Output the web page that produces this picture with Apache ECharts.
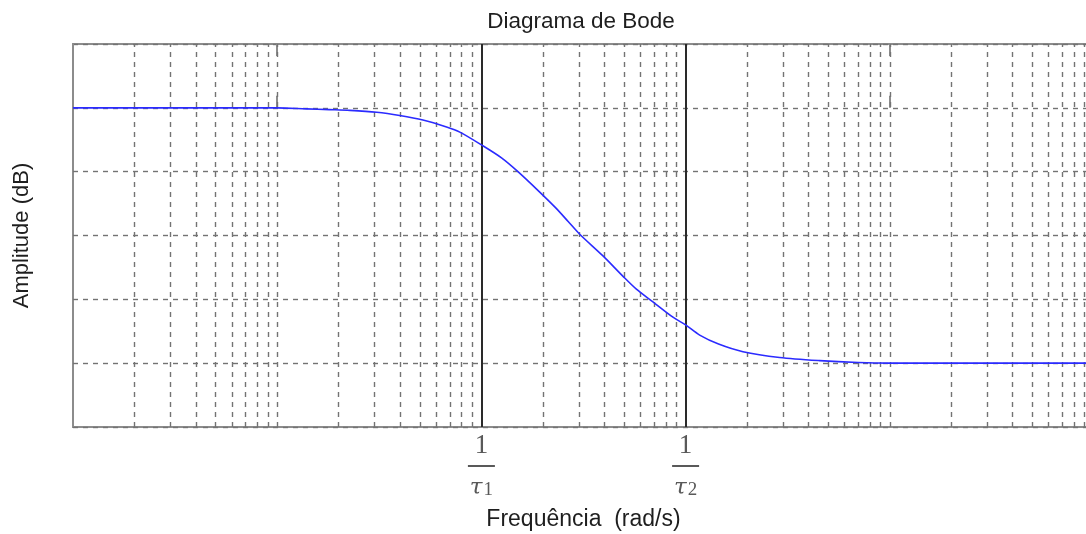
<!DOCTYPE html>
<html>
<head>
<meta charset="UTF-8" />
<script type="text/javascript" src="https://cdn.jsdelivr.net/npm/echarts@6/dist/echarts.min.js"></script>
<title>Diagrama de Bode</title>
<style>
	html, body { margin: 0; padding: 0; background: #fff; }
</style>
</head>
<body>
	<div id="main" style="width: 1086px; height: 534px"></div>
<script type="text/javascript">
	// frequencias (rad/s) e amplitude (dB)
	var freqs = [1, 5, 10, 13.9, 18, 22.7, 30.7, 39.8, 51.7, 67.5, 78.4, 100, 125, 151, 193, 230, 266, 303, 394, 494, 574, 692, 867, 1000, 1172, 1450, 1910, 2886, 4531, 7000, 10000, 100000]
	var amps = [0, 0, 0, -0.08, -0.14, -0.2, -0.35, -0.6, -0.95, -1.5, -1.9, -2.9, -3.9, -5.0, -6.6, -7.8, -8.9, -9.9, -11.6, -13.2, -14.2, -15.2, -16.4, -17.0, -17.8, -18.5, -19.1, -19.55, -19.8, -19.95, -20, -20]

	// decadas e multiplicadores da grade logaritmica
	var decades = [1, 10, 100, 1000, 10000]
	var minorMult = [2, 3, 4, 5, 6, 7, 8, 9]
	// frequencias de corte 1/tau1 e 1/tau2
	var cornerFreqs = [100, 1000]
	var cornerSubs = ['1', '2']

	var yMin = -25, yMax = 5, yStep = 5

	var gridLines = []
	for (var i in decades) {
		if (i > 0 && cornerFreqs.indexOf(decades[i]) < 0) gridLines.push({ xAxis: decades[i] })
		for (var j in minorMult) gridLines.push({ xAxis: decades[i] * minorMult[j] })
	}

	var curve = []
	for (var k in freqs) curve.push([freqs[k], amps[k]])

	var gray = '#595959'
	var option = {
		animation: false,
		title: {
			text: 'Diagrama de Bode',
			left: 576,
			top: 5,
			textAlign: 'center',
			textStyle: { fontFamily: 'Liberation Sans', fontSize: 22.5, fontWeight: 'normal', color: '#1e1e1e' }
		},
		grid: {
			left: 73, top: 44, width: 1021, height: 383,
			outerBoundsMode: 'none',
			show: true, borderColor: '#8c8c8c', borderWidth: 2
		},
		xAxis: [{
			type: 'log', logBase: 10, min: 1, max: 100000,
			name: 'Frequência  (rad/s)',
			nameLocation: 'middle', nameGap: 81,
			nameTextStyle: { fontFamily: 'Liberation Sans', fontSize: 23, color: '#1e1e1e' },
			axisLine: { show: false },
			axisTick: { inside: true, length: 12, lineStyle: { color: '#8c8c8c', width: 2 } },
			splitLine: { show: false },
			axisLabel: {
				margin: 3,
				formatter: function (v) {
					var idx = cornerFreqs.indexOf(Math.pow(10, Math.round(Math.log10(v))))
					if (idx < 0) return ''
					return '{n|1}\n{bar| }\n{t|τ}{s|' + cornerSubs[idx] + '}'
				},
				rich: {
					n: { fontFamily: 'Liberation Serif', fontSize: 27, color: gray, lineHeight: 32 },
					bar: { width: 27, height: 2, lineHeight: 8, backgroundColor: gray },
					t: { fontFamily: 'DejaVu Serif', fontStyle: 'italic', fontSize: 23, color: gray, lineHeight: 30, verticalAlign: 'bottom' },
					s: { fontFamily: 'Liberation Serif', fontSize: 19, color: gray, lineHeight: 26, verticalAlign: 'bottom', padding: [0, 0, 0, 1] }
				}
			}
		}, {
			type: 'log', logBase: 10, min: 1, max: 100000,
			position: 'top',
			axisLine: { show: false },
			axisTick: { inside: true, length: 12, lineStyle: { color: '#8c8c8c', width: 2 } },
			axisLabel: { show: false },
			splitLine: { show: false }
		}],
		yAxis: {
			type: 'value', min: yMin, max: yMax, interval: yStep,
			name: 'Amplitude (dB)',
			nameLocation: 'middle', nameGap: 40,
			nameTextStyle: { fontFamily: 'Liberation Sans', fontSize: 22, color: '#1e1e1e' },
			axisLine: { show: false },
			axisTick: { show: false },
			axisLabel: { show: false },
			splitLine: { lineStyle: { color: '#737373', width: 1.4, type: [5, 5] } }
		},
		series: [{
			type: 'line',
			data: [],
			silent: true,
			markLine: {
				silent: true, symbol: 'none', label: { show: false },
				lineStyle: { color: '#737373', width: 1.4, type: [5, 5] },
				data: gridLines
			}
		}, {
			type: 'line',
			data: [],
			silent: true,
			markLine: {
				silent: true, symbol: 'none', label: { show: false },
				lineStyle: { color: '#2a2a2a', width: 2, type: 'solid' },
				data: cornerFreqs.map(function (f) { return { xAxis: f } })
			}
		}, {
			name: 'Amplitude',
			type: 'line',
			data: curve,
			showSymbol: false,
			smooth: 0.3,
			z: 5,
			lineStyle: { color: '#2b2bff', width: 1.6 }
		}]
	}

	var myChart = echarts.init(document.getElementById('main'))
	myChart.setOption(option)
</script>
</body>
</html>
